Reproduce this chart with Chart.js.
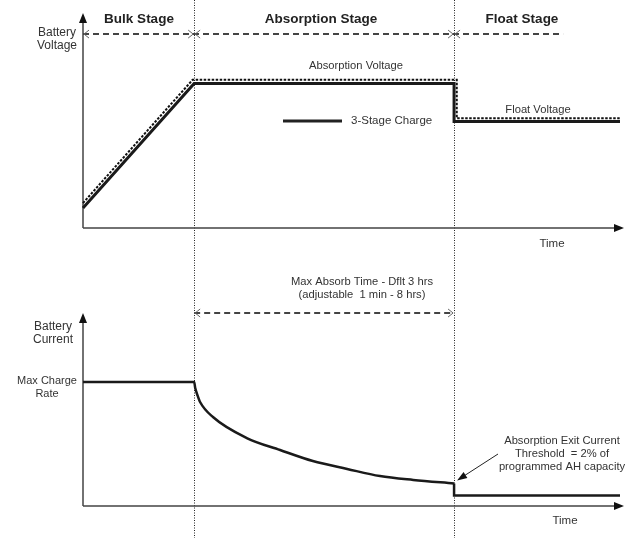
<!DOCTYPE html>
<html><head><meta charset="utf-8">
<script src="https://cdn.jsdelivr.net/npm/chart.js@4/dist/chart.umd.min.js"></script>
<style>
html,body{margin:0;padding:0;background:#fff;}
#wrap{position:relative;width:625px;height:538px;overflow:hidden;}
canvas{position:absolute;left:0;}
#c1{top:0}
#c2{top:255px}
</style></head><body>
<div id="wrap"><canvas id="c1" width="625" height="255"></canvas><canvas id="c2" width="625" height="283"></canvas></div>
<script>
// ---- data ----
const stageNames = ['Bulk Stage', 'Absorption Stage', 'Float Stage'];
const stageEnds = [2.07, 6.91];          // end of bulk, end of absorption (time units)
const timeMax = 10;

// Voltage panel (relative units 0-100)
const chargeTime = [0, 2.07, 6.91, 6.91, 10];
const chargeVolt = [9.3, 67.2, 67.2, 49.5, 49.5];
const setpointTime = [0, 2.04, 6.96, 6.96, 10];
const setpointVolt = [11.6, 68.9, 68.9, 51.0, 51.0];
const stageSpanTime = [0, 8.94];
const stageSpanLevel = [90.2, 90.2];

// Current panel (relative units 0-100)
const currentTime = [0, 2.07, 2.09, 2.13, 2.18, 2.42, 3.05, 3.67, 4.28, 4.92, 5.53, 6.15, 6.91];
const currentVal  = [64.2, 64.2, 61.1, 57.5, 53.9, 46.1, 35.2, 29.0, 23.3, 19.2, 15.5, 13.5, 11.7];
const floatCurrentTime = [6.91, 6.91, 10];
const floatCurrentVal  = [11.7, 5.4, 5.4];
const absorbSpanTime = [2.07, 6.91];
const absorbSpanLevel = [100, 100];

const FONT = '"Liberation Sans", Arial, sans-serif';
const pts = (xs, ys) => xs.map((x, i) => ({x, y: ys[i]}));

function drawText(ctx, txt, x, y, size, bold, align, color) {
  ctx.save();
  ctx.font = (bold ? 'bold ' : '') + size + 'px ' + FONT;
  ctx.fillStyle = color || '#333';
  ctx.textAlign = align || 'center';
  ctx.textBaseline = 'middle';
  ctx.fillText(txt, x, y);
  ctx.restore();
}
function chevron(ctx, x, y, dir) {
  ctx.save();
  ctx.strokeStyle = '#666';
  ctx.lineWidth = 1;
  ctx.setLineDash([]);
  ctx.beginPath();
  ctx.moveTo(x - dir * 5, y - 4);
  ctx.lineTo(x, y);
  ctx.lineTo(x - dir * 5, y + 4);
  ctx.stroke();
  ctx.restore();
}
function axes(chart) {
  const {ctx, chartArea: a} = chart;
  ctx.save();
  ctx.strokeStyle = '#444';
  ctx.fillStyle = '#111';
  ctx.lineWidth = 1.5;
  ctx.beginPath();
  ctx.moveTo(a.left, a.bottom); ctx.lineTo(a.left, a.top + 8);
  ctx.moveTo(a.left, a.bottom); ctx.lineTo(a.right - 2, a.bottom);
  ctx.stroke();
  ctx.beginPath();
  ctx.moveTo(a.left, a.top); ctx.lineTo(a.left - 4, a.top + 10); ctx.lineTo(a.left + 4, a.top + 10); ctx.closePath();
  ctx.fill();
  ctx.beginPath();
  ctx.moveTo(a.right + 4, a.bottom); ctx.lineTo(a.right - 6, a.bottom - 4); ctx.lineTo(a.right - 6, a.bottom + 4); ctx.closePath();
  ctx.fill();
  ctx.restore();
}
function stageLines(chart) {
  const {ctx} = chart;
  const xs = chart.scales.x;
  ctx.save();
  ctx.strokeStyle = '#222';
  ctx.lineWidth = 1;
  ctx.setLineDash([1, 1.5]);
  stageEnds.forEach(t => {
    const px = Math.round(xs.getPixelForValue(t)) + 0.5;
    ctx.beginPath(); ctx.moveTo(px, 0); ctx.lineTo(px, chart.height); ctx.stroke();
  });
  ctx.restore();
}

const baseOpts = (pad) => ({
  responsive: false,
  animation: false,
  events: [],
  layout: {padding: pad},
  plugins: {legend: {display: false}, tooltip: {enabled: false}},
  elements: {point: {radius: 0}, line: {tension: 0}},
  scales: {
    x: {type: 'linear', min: 0, max: timeMax, display: false},
    y: {type: 'linear', min: 0, max: 100, display: false}
  }
});

// ---- top chart: voltage ----
const topPlugin = {
  id: 'topDeco',
  beforeDatasetsDraw(chart) { stageLines(chart); axes(chart); },
  afterDatasetsDraw(chart) {
    const {ctx} = chart;
    const xs = chart.scales.x, ys = chart.scales.y;
    const yl = ys.getPixelForValue(stageSpanLevel[0]);
    const x0 = xs.getPixelForValue(0), x1 = xs.getPixelForValue(stageEnds[0]), x2 = xs.getPixelForValue(stageEnds[1]);
    chevron(ctx, x0 + 1, yl, -1);
    chevron(ctx, x1 - 1, yl, 1); chevron(ctx, x1 + 1, yl, -1);
    chevron(ctx, x2 - 1, yl, 1); chevron(ctx, x2 + 1, yl, -1);
    drawText(ctx, stageNames[0], 139, 19, 13.5, true, 'center', '#222');
    drawText(ctx, stageNames[1], 321, 19, 13.5, true, 'center', '#222');
    drawText(ctx, stageNames[2], 522, 19, 13.5, true, 'center', '#222');
    drawText(ctx, 'Battery', 57, 33, 12, false);
    drawText(ctx, 'Voltage', 57, 46, 12, false);
    drawText(ctx, 'Absorption Voltage', 356, 66, 11.2, false);
    drawText(ctx, 'Float Voltage', 538, 110, 11.2, false);
    drawText(ctx, 'Time', 552, 244, 11.5, false);
    // legend
    ctx.save();
    ctx.strokeStyle = '#222'; ctx.lineWidth = 3;
    ctx.beginPath(); ctx.moveTo(283, 121); ctx.lineTo(342, 121); ctx.stroke();
    ctx.restore();
    drawText(ctx, chart.data.datasets[1].label, 351, 121, 11.5, false, 'left');
  }
};
new Chart(document.getElementById('c1'), {
  type: 'line',
  data: {datasets: [
    {label: 'Setpoint', data: pts(setpointTime, setpointVolt), borderColor: '#111', borderWidth: 2, borderDash: [2.5, 1.5], clip: false},
    {label: '3-Stage Charge', data: pts(chargeTime, chargeVolt), borderColor: '#1a1a1a', borderWidth: 3, clip: false},
    {label: 'Stage span', data: pts(stageSpanTime, stageSpanLevel), borderColor: '#444', borderWidth: 2, borderDash: [6, 4], clip: false}
  ]},
  options: baseOpts({left: 83, right: 5, top: 13, bottom: 27}),
  plugins: [topPlugin]
});

// ---- bottom chart: current ----
const botPlugin = {
  id: 'botDeco',
  beforeDatasetsDraw(chart) { stageLines(chart); axes(chart); },
  afterDatasetsDraw(chart) {
    const {ctx} = chart;
    const xs = chart.scales.x, ys = chart.scales.y;
    const yl = ys.getPixelForValue(absorbSpanLevel[0]);
    const x1 = xs.getPixelForValue(stageEnds[0]), x2 = xs.getPixelForValue(stageEnds[1]);
    chevron(ctx, x1 + 1, yl, -1);
    chevron(ctx, x2 - 1, yl, 1);
    const off = -255;
    drawText(ctx, 'Max Absorb Time - Dflt 3 hrs', 362, 282 + off, 11.2, false);
    drawText(ctx, '(adjustable  1 min - 8 hrs)', 362, 295 + off, 11.2, false);
    drawText(ctx, 'Battery', 53, 327 + off, 12, false);
    drawText(ctx, 'Current', 53, 340 + off, 12, false);
    drawText(ctx, 'Max Charge', 47, 381 + off, 11, false);
    drawText(ctx, 'Rate', 47, 394 + off, 11, false);
    drawText(ctx, 'Absorption Exit Current', 562, 441 + off, 11.2, false);
    drawText(ctx, 'Threshold  = 2% of', 562, 454 + off, 11.2, false);
    drawText(ctx, 'programmed AH capacity', 562, 467 + off, 11.2, false);
    drawText(ctx, 'Time', 565, 521 + off, 11.5, false);
    // annotation arrow to absorption exit point
    const tx = xs.getPixelForValue(currentTime[currentTime.length - 1]) + 3;
    const ty = ys.getPixelForValue(currentVal[currentVal.length - 1]) - 3;
    const sx = 498, sy = 454 + off;
    const ang = Math.atan2(ty - sy, tx - sx);
    ctx.save();
    ctx.strokeStyle = '#222'; ctx.fillStyle = '#111'; ctx.lineWidth = 1;
    ctx.beginPath(); ctx.moveTo(sx, sy); ctx.lineTo(tx - 8 * Math.cos(ang), ty - 8 * Math.sin(ang)); ctx.stroke();
    ctx.beginPath();
    ctx.moveTo(tx, ty);
    ctx.lineTo(tx - 10 * Math.cos(ang) + 3.5 * Math.sin(ang), ty - 10 * Math.sin(ang) - 3.5 * Math.cos(ang));
    ctx.lineTo(tx - 10 * Math.cos(ang) - 3.5 * Math.sin(ang), ty - 10 * Math.sin(ang) + 3.5 * Math.cos(ang));
    ctx.closePath(); ctx.fill();
    ctx.restore();
  }
};
new Chart(document.getElementById('c2'), {
  type: 'line',
  data: {datasets: [
    {label: 'Current', data: pts(currentTime, currentVal), borderColor: '#1a1a1a', borderWidth: 2.5, cubicInterpolationMode: 'monotone', clip: false},
    {label: 'Float current', data: pts(floatCurrentTime, floatCurrentVal), borderColor: '#1a1a1a', borderWidth: 2.5, clip: false},
    {label: 'Absorb span', data: pts(absorbSpanTime, absorbSpanLevel), borderColor: '#444', borderWidth: 2, borderDash: [6, 4], clip: false}
  ]},
  options: baseOpts({left: 83, right: 5, top: 58, bottom: 32}),
  plugins: [botPlugin]
});
</script>
</body></html>
